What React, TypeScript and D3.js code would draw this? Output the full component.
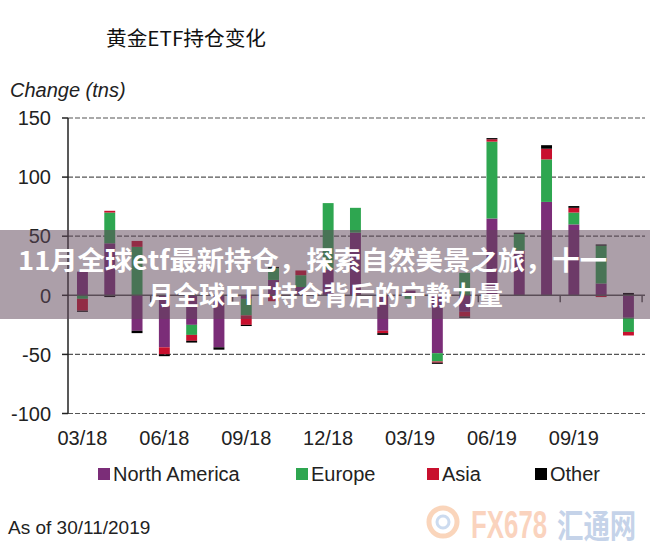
import React from "react";
import * as d3 from "d3";

const months = ["03/18","04/18","05/18","06/18","07/18","08/18","09/18","10/18","11/18","12/18","01/19","02/19","03/19","04/19","05/19","06/19","07/19","08/19","09/19","10/19","11/19"];
const northAmerica = [20, 44, -30, -44, -25, -44, -3, 13, 7, 22, 53, -30, 4, -49, -14, 65, 38, 79, 60, 10, -19];
const europe = [-3, 26, 41, 0, -8.5, 0, -14, 10, 10, 56, 21, 0, -3, -7, 19, 65, 14, 36, 10, 32, -12];
const asia = [-10, 1.5, 5, -6, -5, 0, -8, -5, 4, 0, 0, -2, 0, -1, -4, 2, 0, 9, 4, -1.5, -3];
const other = [-1, -1.5, -2, -1.5, -1.5, -2, -1, 1, 0, 0, 0, -1.5, 0, -1, -1, 1, 1, 3, 1.5, 1, 2];
const yTicks = [150, 100, 50, 0, -50, -100];
const xLabels = ["03/18", "06/18", "09/18", "12/18", "03/19", "06/19", "09/19"];
const seriesNames = ["North America", "Europe", "Asia", "Other"];
const seriesColors = ["#7b2d78", "#2ea650", "#c8102e", "#000000"];

const title = "黄金ETF持仓变化";
const yTitle = "Change (tns)";
const note = "As of 30/11/2019";
const banner1 = "11月全球etf最新持仓，探索自然美景之旅，十一";
const banner2 = "月全球ETF持仓背后的宁静力量";
const wmLatin = "FX678";
const wmCjk = "汇通网";

export default function App() {
  const W = 650, H = 551;
  const x = d3.scaleBand<string>().domain(months).range([68.8, 642.1]).paddingInner(0.6).paddingOuter(0.3);
  const y = d3.scaleLinear().domain([-100, 150]).range([413.5, 118]);
  const keys = ["na", "eu", "as", "ot"];
  const rows = months.map((m, i) => ({ m, na: northAmerica[i], eu: europe[i], as: asia[i], ot: other[i] }));
  const stacked = d3.stack<any>().keys(keys).offset(d3.stackOffsetDiverging)(rows);
  const step = x.step();
  const x0 = x.range()[0];
  const qTicks = d3.range(3, 22, 3).map((k) => x0 + step * k);
  const sans = "'Liberation Sans', Arial, sans-serif";
  const cjk = "'Noto Sans CJK SC', sans-serif";
  const legendX = [98, 296, 427, 535];

  return (
    <svg width={W} height={H} style={{ position: "absolute", left: 0, top: 0, background: "#fff" }}>
      <rect x={0} y={0} width={W} height={H} fill="#fff" />
      <text x={106} y={46} fontFamily={cjk} fontSize={20} fill="#111" textLength={160} lengthAdjust="spacingAndGlyphs">{title}</text>
      <text x={10} y={97} fontFamily={sans} fontSize={20} fontStyle="italic" fill="#222">{yTitle}</text>

      {yTicks.map((t) => (
        <g key={t}>
          {t !== 0 && (
            <line x1={68} x2={645} y1={y(t)} y2={y(t)} stroke="#555" strokeWidth={1.2} strokeDasharray="5,2" />
          )}
          <line x1={62} x2={68} y1={y(t)} y2={y(t)} stroke="#222" strokeWidth={1.5} />
          <text x={51} y={y(t)} dy="0.36em" textAnchor="end" fontFamily={sans} fontSize={20} fill="#222">{t}</text>
        </g>
      ))}

      {stacked.map((s, si) => (
        <g key={s.key} fill={seriesColors[si]}>
          {s.map((d, i) => {
            const top = y(Math.max(d[0], d[1]));
            const h = Math.abs(y(d[0]) - y(d[1]));
            if (h <= 0) return null;
            return <rect key={i} x={x(months[i])} y={top} width={x.bandwidth()} height={h} />;
          })}
        </g>
      ))}

      <line x1={68} x2={645} y1={y(0)} y2={y(0)} stroke="#555" strokeWidth={1.5} />
      {qTicks.map((t, i) => (
        <line key={i} x1={t} x2={t} y1={y(0)} y2={y(0) + 7} stroke="#555" strokeWidth={1.5} />
      ))}
      <line x1={68} x2={68} y1={y(150)} y2={y(-100)} stroke="#222" strokeWidth={1.5} />

      {xLabels.map((l) => (
        <text key={l} x={(x(l) as number) + x.bandwidth() / 2} y={445} textAnchor="middle" fontFamily={sans} fontSize={20} fill="#222">{l}</text>
      ))}

      {seriesNames.map((n, i) => (
        <g key={n}>
          <rect x={legendX[i]} y={468} width={12} height={12} fill={seriesColors[i]} />
          <text x={legendX[i] + 15} y={481} fontFamily={sans} fontSize={20} fill="#222">{n}</text>
        </g>
      ))}

      <text x={8} y={534} fontFamily={sans} fontSize={19} fill="#222">{note}</text>

      <g opacity={0.45}>
        <circle cx={443} cy={522} r={14} fill="none" stroke="#f4a46a" strokeWidth={5} />
        <circle cx={443} cy={522} r={6} fill="none" stroke="#8fb0dd" strokeWidth={3} />
        <text transform="translate(471,538) scale(0.68,1)" fontFamily={sans} fontWeight="bold" fontSize={38} fill="#f5a070">{wmLatin}</text>
        <text transform="translate(557,538) scale(0.8,1)" fontFamily={cjk} fontWeight="bold" fontSize={33} fill="#7f9fd0">{wmCjk}</text>
      </g>

      <rect x={0} y={230} width={W} height={89} fill="rgb(95,70,90)" fillOpacity={0.52} />
      <text x={18} y={270} fontFamily={cjk} fontWeight="bold" fontSize={26} fill="#fff" textLength={589} lengthAdjust="spacingAndGlyphs">{banner1}</text>
      <text x={148} y={305} fontFamily={cjk} fontWeight="bold" fontSize={26} fill="#fff" textLength={355} lengthAdjust="spacingAndGlyphs">{banner2}</text>
    </svg>
  );
}
